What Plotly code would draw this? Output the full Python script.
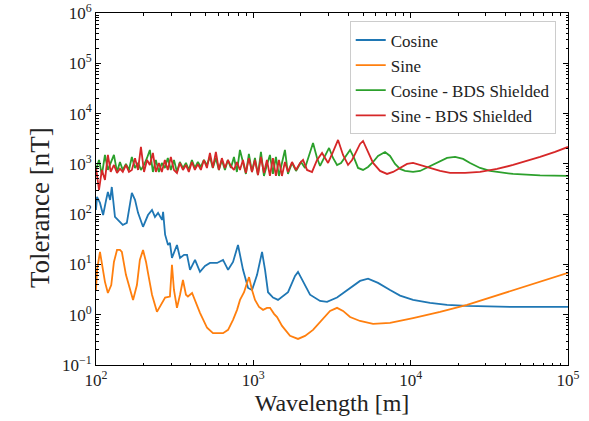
import plotly.graph_objects as go

# ---- data (wavelength [m], tolerance [nT]) ----
cos_wl = [100, 101.5, 106, 111, 116, 119, 123, 126, 132, 142, 148, 157, 169, 177, 185, 199, 214, 227, 237, 248,
          263, 267, 275, 287, 295, 304, 327, 342, 363, 379, 396, 426, 458, 493, 530, 588, 642, 691, 743, 799,
          860, 926, 981, 1056, 1136, 1187, 1240, 1334, 1435, 1662, 1841, 1923, 2039, 2293, 2655, 2941, 3405,
          4119, 4767, 5359, 6202, 7394, 8563, 10356, 13280, 17030, 22830, 44770, 100000]
cos_tol = [121, 220, 167, 96, 192, 276, 192, 347, 88, 70, 61, 67, 264, 192, 106, 56, 96, 121, 88, 106,
           77, 111, 39, 24.4, 26.8, 13.5, 24.4, 13.5, 15.5, 15.5, 7.8, 12.3, 7.1, 9.3, 10.7, 10.7, 12.3, 7.8, 11.2, 24.4,
           7.8, 3.4, 3.1, 6.2, 17.7, 7.8, 2.8, 2.2, 1.97, 2.8, 5.9, 7.1, 4.9, 2.5, 1.88, 1.80, 2.2,
           3.4, 4.7, 5.2, 4.3, 3.1, 2.4, 1.97, 1.72, 1.57, 1.50, 1.43, 1.43]

sin_wl = [100, 101.5, 106, 111, 114, 119, 125, 130, 136, 142, 146, 155, 164, 172, 182, 190, 199, 208, 214, 227,
          244, 259, 275, 295, 304, 313, 327, 342, 357, 373, 384, 408, 432, 458, 508, 554, 642, 691, 743, 788,
          823, 873, 912, 939, 981, 1025, 1087, 1153, 1222, 1277, 1354, 1415, 1522, 1711, 1923, 2131, 2396, 2734,
          3073, 3405, 3717, 4119, 4767, 5767, 7394, 10356, 15380, 22830, 31960, 44770, 66450, 100000]
sin_tol = [3.1, 7.8, 17.7, 7.8, 4.5, 2.7, 3.9, 11.2, 19.4, 19.4, 17.7, 6.2, 3.1, 1.97, 3.9, 12.3, 19.4, 11.2, 6.8, 2.5,
           1.14, 1.57, 2.2, 2.3, 9.8, 3.1, 1.37, 2.5, 4.9, 2.5, 2.3, 2.7, 1.72, 1.09, 0.55, 0.43, 0.43, 0.50, 0.79, 1.25,
           1.97, 2.8, 4.3, 5.6, 3.1, 1.97, 1.43, 1.25, 1.37, 1.37, 1.04, 0.90, 0.60, 0.38, 0.33, 0.38, 0.50, 0.79,
           1.19, 1.37, 1.19, 0.90, 0.75, 0.66, 0.69, 0.86, 1.14, 1.57, 2.2, 3.1, 4.5, 6.8]

shield_wl_low = [100, 104.5, 109, 114, 119, 124, 130, 136, 142, 148, 155, 162, 169, 177, 185, 193, 202, 211, 220,
                 230, 240, 251, 262, 274, 286, 299, 313, 327, 341, 357, 373, 389, 407, 425, 444, 464, 485, 507,
                 530, 553, 578, 604, 631, 660, 689, 720, 753, 786, 822, 859, 897, 937, 980, 1024, 1070, 1118,
                 1168, 1220, 1275, 1332, 1392, 1455, 1520, 1588, 1660]

cos_bds_wl = shield_wl_low + [1762, 1868, 2010, 2131, 2259, 2396, 2541, 2655, 2815, 3029, 3210, 3405, 3610, 3827,
                              4119, 4366, 4630, 4981, 5359, 5767, 6202, 6873, 7394, 7958, 8563, 9211, 10356, 11470,
                              13280, 15380, 17030, 19150, 21530, 23850, 27620, 31960, 35420, 44770, 66450, 100000]
cos_bds_tol = [757, 1196, 601, 1503, 757, 1090, 1503, 690, 1090, 757, 995, 757, 1371, 829, 1042, 757, 951, 1310,
               1890, 690, 1196, 690, 1042, 829, 1310, 757, 1196, 690, 1090, 829, 1042, 757, 1196, 829, 1090, 867,
               1196, 951, 1371, 829, 1310, 757, 1196, 757, 1196, 829, 1371, 690, 1890, 1090, 630, 1574, 690, 1310,
               601, 1724, 575, 951, 1503, 630, 1371, 575, 1090, 1890, 630,
               1042, 723, 1090, 829, 1436, 2606, 1310, 908, 1310, 2071, 1310, 951, 1042, 1371,
               1890, 1310, 829, 757, 867, 1090, 1436, 1724, 1436, 995, 792, 723, 690, 723,
               908, 1142, 1310, 1371, 1252, 1042, 829, 723, 690, 630, 588, 575]

sin_bds_wl = shield_wl_low + [1762, 1868, 1981, 2070, 2194, 2361, 2541, 2734, 2856, 2985, 3210, 3455, 3717, 3999,
                              4242, 4496, 4767, 4981, 5279, 5767, 6389, 7077, 7727, 8563, 9484, 10356, 11470, 13280,
                              15380, 17800, 22170, 27620, 35420, 44770, 54950, 66450, 82770, 100000]
sin_bds_tol = [829, 303, 757, 479, 1503, 690, 951, 660, 800, 690, 951, 690, 757, 1300, 757, 2168, 690, 1196,
               951, 1650, 690, 1042, 690, 1196, 757, 1371, 757, 660, 1042, 757, 951, 690, 1090, 757, 990, 757,
               1196, 829, 1650, 829, 1724, 757, 1300, 829, 1196, 900, 757, 1090, 757, 1196, 660, 1300, 690, 1196,
               601, 1371, 660, 1196, 575, 1300, 575, 1196, 575, 1090, 690,
               1090, 757, 1042, 1196, 757, 690, 1196, 1650, 1300, 1042, 1724, 2985, 1503, 951,
               1196, 1724, 2488, 2853, 1890, 1042, 723, 630, 690, 829, 995, 1042, 951, 829,
               723, 660, 660, 690, 792, 951, 1142, 1371, 1724, 2168]

names = ["Cosine", "Sine", "Cosine - BDS Shielded", "Sine - BDS Shielded"]
colors = ["#1f77b4", "#ff7f0e", "#2ca02c", "#d62728"]
series = [(cos_wl, cos_tol), (sin_wl, sin_tol), (cos_bds_wl, cos_bds_tol), (sin_bds_wl, sin_bds_tol)]

# tick labels
x_exps = [2, 3, 4, 5]
y_exps = [-1, 0, 1, 2, 3, 4, 5, 6]
x_tickvals = [10.0 ** e for e in x_exps]
y_tickvals = [10.0 ** e for e in y_exps]
x_ticktext = ["10<sup>%s</sup>" % str(e).replace("-", "\u2212") for e in x_exps]
y_ticktext = ["10<sup>%s</sup>" % str(e).replace("-", "\u2212") for e in y_exps]
x_minor = [m * 10.0 ** e for e in x_exps[:-1] for m in range(2, 10)]
y_minor = [m * 10.0 ** e for e in y_exps[:-1] for m in range(2, 10)]

FONT = "Liberation Serif"
TXT = "#222222"

fig = go.Figure()
for (x, y), n, c in zip(series, names, colors):
    fig.add_trace(go.Scatter(x=x, y=y, mode="lines", name=n,
                             line=dict(color=c, width=1.8)))

# invisible trace to activate the mirrored (top/right) axes
fig.add_trace(go.Scatter(x=[x_tickvals[0]], y=[y_tickvals[0]], xaxis="x2", yaxis="y2",
                         mode="markers", marker=dict(opacity=0), showlegend=False, hoverinfo="skip"))


def tick_style(minor_vals):
    return dict(ticks="inside", ticklen=5, tickwidth=1, tickcolor="black", automargin=False,
                minor=dict(ticks="inside", ticklen=2.5, tickwidth=0.8, tickcolor="black",
                           tickmode="array", tickvals=minor_vals, showgrid=False))


fig.update_layout(
    width=589, height=421,
    margin=dict(l=96, r=21, t=13, b=56, autoexpand=False),
    plot_bgcolor="white", paper_bgcolor="white",
    font=dict(family=FONT, color=TXT),
    xaxis=dict(type="log", range=[2, 5], showgrid=False, zeroline=False, showline=True,
               linecolor="black", linewidth=1, mirror=True,
               tickmode="array", tickvals=x_tickvals, ticktext=x_ticktext,
               tickfont=dict(family=FONT, size=17, color=TXT),
               title=dict(text="Wavelength [m]", font=dict(family=FONT, size=24, color=TXT), standoff=3),
               **tick_style(x_minor)),
    yaxis=dict(type="log", range=[-1, 6], showgrid=False, zeroline=False, showline=True,
               linecolor="black", linewidth=1, mirror=True,
               tickmode="array", tickvals=y_tickvals, ticktext=y_ticktext,
               tickfont=dict(family=FONT, size=17, color=TXT),
               **tick_style(y_minor)),
    xaxis2=dict(type="log", range=[2, 5], overlaying="x", side="top", anchor="y2", showgrid=False,
                zeroline=False, showline=False, showticklabels=False,
                tickmode="array", tickvals=x_tickvals, **tick_style(x_minor)),
    yaxis2=dict(type="log", range=[-1, 6], overlaying="y", side="right", anchor="x2", showgrid=False,
                zeroline=False, showline=False, showticklabels=False,
                tickmode="array", tickvals=y_tickvals, **tick_style(y_minor)),
    legend=dict(x=0.974, y=0.976, xanchor="right", yanchor="top",
                bgcolor="rgba(255,255,255,0.85)", bordercolor="#cccccc", borderwidth=1,
                font=dict(family=FONT, size=17, color=TXT), tracegroupgap=0),
    annotations=[dict(text="Tolerance [nT]", xref="paper", yref="paper",
                      x=(40 - 96) / 472, y=1 - (208 - 13) / 352, xanchor="center", yanchor="middle",
                      textangle=-90, showarrow=False, font=dict(family=FONT, size=27, color=TXT))],
)

fig.write_html("out.html")
